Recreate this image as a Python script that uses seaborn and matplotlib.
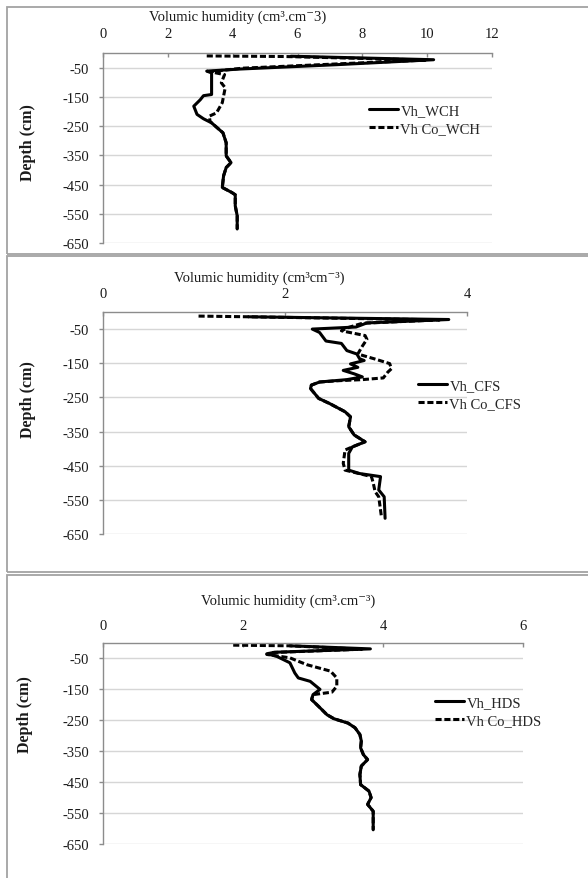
import matplotlib
matplotlib.use('Agg')
import matplotlib.pyplot as plt
import seaborn as sns
from matplotlib.patches import Rectangle

# ---------------- data ----------------
# Panel 1 : WCH
wch_depth = [-11, -23, -40, -55, -62, -68, -142, -146, -160, -182, -210, -225, -239,
             -273, -307, -352, -375, -392, -420, -460, -477, -485, -523, -557, -602]
wch_vh = [5.8, 10.2, 7.2, 4.2, 3.2, 3.35, 3.35, 3.1, 3.0, 2.8, 2.9, 3.1, 3.35,
          3.7, 3.8, 3.8, 3.95, 3.8, 3.72, 3.68, 3.97, 4.08, 4.08, 4.14, 4.14]
wch_co_depth = [-10, -12, -24, -36, -52, -64, -74, -102, -119, -170, -205, -216, -233, -239,
                -273, -307, -352, -375, -392, -420, -460, -477, -485, -523, -557, -602]
wch_co_vh = [3.2, 5.6, 10.0, 7.5, 4.3, 3.3, 3.75, 3.65, 3.77, 3.68, 3.5, 3.28, 3.3, 3.35,
             3.7, 3.8, 3.8, 3.95, 3.8, 3.72, 3.68, 3.97, 4.08, 4.08, 4.14, 4.14]

# Panel 2 : CFS
cfs_depth = [-14, -22, -32, -44, -50, -60, -85, -92, -113, -123, -137, -142, -152, -162,
             -171, -181, -190, -198, -205, -214, -224, -253, -268, -292, -307, -336,
             -360, -380, -395, -414, -463, -473, -482, -521, -541, -604]
cfs_vh = [1.6, 3.8, 2.9, 2.78, 2.3, 2.38, 2.45, 2.62, 2.68, 2.79, 2.82, 2.87, 2.72, 2.8,
          2.64, 2.76, 2.85, 2.68, 2.38, 2.29, 2.28, 2.37, 2.49, 2.66, 2.72, 2.70,
          2.76, 2.88, 2.74, 2.70, 2.70, 2.82, 3.05, 3.03, 3.09, 3.10]
cfs_co_depth = [-12, -14, -23, -33, -45, -55, -69, -80, -100, -123, -137, -151, -166, -176,
                -193, -198, -201, -205, -214, -224, -253, -268, -292, -307, -336, -360,
                -380, -395, -404, -443, -463, -482, -501, -526, -541, -600]
cfs_co_vh = [1.05, 1.6, 3.7, 2.85, 2.7, 2.62, 2.88, 2.9, 2.85, 2.8, 2.98, 3.15, 3.17, 3.13,
             3.08, 2.85, 2.6, 2.38, 2.29, 2.28, 2.37, 2.49, 2.66, 2.72, 2.70, 2.76,
             2.88, 2.74, 2.66, 2.64, 2.66, 2.95, 2.97, 2.99, 3.03, 3.06]

# Panel 3 : HDS
hds_depth = [-9, -19, -30, -35, -43, -64, -97, -113, -124, -150, -167, -183, -205, -232,
             -245, -259, -274, -296, -317, -339, -361, -377, -398, -425, -458, -479,
             -500, -522, -544, -577, -604]
hds_vh = [2.67, 3.82, 2.45, 2.34, 2.48, 2.67, 2.74, 2.79, 2.96, 3.10, 3.0, 2.98, 3.08, 3.2,
          3.3, 3.5, 3.6, 3.67, 3.69, 3.68, 3.72, 3.78, 3.69, 3.67, 3.68, 3.80,
          3.83, 3.78, 3.86, 3.86, 3.86]
hds_co_depth = [-7, -9, -20, -31, -37, -48, -70, -91, -113, -140, -159, -164, -167, -183,
                -205, -232, -245, -259, -274, -296, -317, -339, -361, -377, -398, -425,
                -458, -479, -500, -522, -544, -577, -604]
hds_co_vh = [1.86, 2.67, 3.7, 2.4, 2.34, 2.67, 2.91, 3.25, 3.34, 3.34, 3.27, 3.10, 3.0, 2.98,
             3.08, 3.2, 3.3, 3.5, 3.6, 3.67, 3.69, 3.68, 3.72, 3.78, 3.69, 3.67,
             3.68, 3.80, 3.83, 3.78, 3.86, 3.86, 3.86]

y_ticks = [-650, -550, -450, -350, -250, -150, -50]
x_ticks_1 = [0, 2, 4, 6, 8, 10, 12]
x_ticks_2 = [0, 2, 4]
x_ticks_3 = [0, 2, 4, 6]

titles = ["Volumic humidity (cm\u00b3.cm\u207b3)",
          "Volumic humidity (cm\u00b3cm\u207b\u00b3)",
          "Volumic humidity (cm\u00b3.cm\u207b\u00b3)"]
legend_labels = [("Vh_WCH", "Vh Co_WCH"), ("Vh_CFS", "Vh Co_CFS"), ("Vh_HDS", "Vh Co_HDS")]

# ---------------- style ----------------
sns.set_theme(style='white')
plt.rcParams['font.family'] = ['Liberation Serif', 'DejaVu Serif']
plt.rcParams['axes.unicode_minus'] = False

W, H = 588, 879
fig = plt.figure(figsize=(W / 100, H / 100), dpi=100)


def fx(p):
    return p / W


def fy(p):
    return 1 - p / H


# panel frames
for top, bot in [(8, 255), (257, 573), (576, 900)]:
    fig.patches.append(Rectangle((fx(7), fy(bot)), fx(640) - fx(7), fy(top) - fy(bot),
                                 transform=fig.transFigure, fill=False,
                                 edgecolor='#a3a3a3', lw=1.3))

panels = [
    dict(solid=(wch_vh, wch_depth), dashed=(wch_co_vh, wch_co_depth), xt=x_ticks_1,
         x1=492, top=54, bot=244, pad=9, title_xy=(238, 17), ylab_xy=(28, 143),
         leg_xy=(369, 105)),
    dict(solid=(cfs_vh, cfs_depth), dashed=(cfs_co_vh, cfs_co_depth), xt=x_ticks_2,
         x1=467, top=313, bot=535, pad=9, title_xy=(259, 278), ylab_xy=(28, 400),
         leg_xy=(418, 380)),
    dict(solid=(hds_vh, hds_depth), dashed=(hds_co_vh, hds_co_depth), xt=x_ticks_3,
         x1=523, top=644, bot=845, pad=8, title_xy=(288, 601), ylab_xy=(25, 715),
         leg_xy=(435, 697)),
]

grey = '#8c8c8c'
for i, p in enumerate(panels):
    x0 = 103
    ax = fig.add_axes([fx(x0), fy(p['bot']), fx(p['x1']) - fx(x0), fy(p['top']) - fy(p['bot'])])
    sv, sd = p['solid']
    dv, dd = p['dashed']
    sns.lineplot(x=dv, y=dd, sort=False, estimator=None, color='black', lw=2.2,
                 ax=ax, linestyle=(0, (2.0, 0.9)))
    sns.lineplot(x=sv, y=sd, sort=False, estimator=None, color='black', lw=2.2, ax=ax)
    ax.set_xlim(p['xt'][0], p['xt'][-1])
    ax.set_ylim(-650, 0)
    ax.set_xticks(p['xt'])
    ax.set_xticklabels([str(v) for v in p['xt']])
    ax.set_yticks(y_ticks)
    ax.set_yticklabels([str(v) for v in y_ticks])
    ax.xaxis.tick_top()
    ax.set_xlabel('')
    ax.set_ylabel('')
    ax.grid(axis='y', color='#d6d6d6', lw=1.0)
    ax.grid(axis='x', visible=False)
    ax.set_axisbelow(True)
    for s in ['right', 'bottom']:
        ax.spines[s].set_visible(False)
    for s in ['top', 'left']:
        ax.spines[s].set_visible(True)
        ax.spines[s].set_color(grey)
        ax.spines[s].set_linewidth(1.0)
    ax.tick_params(axis='x', top=True, bottom=False, labeltop=True, labelbottom=False,
                   direction='in', length=3, width=1, color=grey, pad=p['pad'],
                   labelsize=10.5, labelcolor='#1a1a1a')
    ax.tick_params(axis='y', left=True, direction='out', length=3, width=1, color=grey,
                   pad=7, labelsize=10.5, labelcolor='#1a1a1a')
    lines = ax.get_lines()
    handles = [lines[1], lines[0]]
    ax.legend(handles, list(legend_labels[i]), loc='upper left',
              bbox_to_anchor=(fx(p['leg_xy'][0]), fy(p['leg_xy'][1])),
              bbox_transform=fig.transFigure, frameon=False, fontsize=10.5,
              handlelength=2.0, handletextpad=0.15, labelspacing=0.35,
              borderpad=0, borderaxespad=0)
    fig.text(fx(p['title_xy'][0]), fy(p['title_xy'][1]), titles[i], ha='center',
             va='center', fontsize=10.5, color='#1a1a1a')
    fig.text(fx(p['ylab_xy'][0]), fy(p['ylab_xy'][1]), 'Depth (cm)', rotation=90,
             ha='center', va='center', fontsize=11.5, fontweight='bold', color='#1a1a1a')

fig.savefig('out.png', dpi=100)
